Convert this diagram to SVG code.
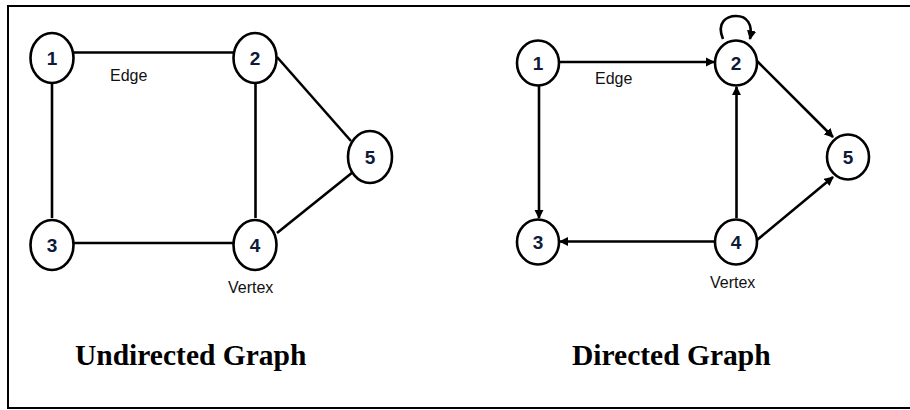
<svg xmlns="http://www.w3.org/2000/svg" width="910" height="410" viewBox="0 0 910 410">
  <style>
    .node ellipse { fill: #fff; stroke: #000; stroke-width: 2.6; }
    .node text { font-family: "Liberation Sans", Arial, sans-serif; font-weight: bold; font-size: 19px; fill: #0e1a3a; text-anchor: middle; }
    .edge { stroke: #000; stroke-width: 2.6; fill: none; }
    .arc { stroke: #000; stroke-width: 2.6; fill: none; marker-end: url(#arrow); }
    .label { font-family: "Liberation Sans", Arial, sans-serif; font-size: 16px; fill: #111; }
    .title { font-family: "Liberation Serif", "Times New Roman", serif; font-weight: bold; font-size: 29.5px; fill: #000; }
  </style>
  <defs>
    <marker id="arrow" viewBox="0 0 10 10" refX="9" refY="5" markerWidth="3.6" markerHeight="3.6" orient="auto" markerUnits="strokeWidth">
      <path d="M0,0 L10,5 L0,10 z" fill="#000"/>
    </marker>
  </defs>

  <!-- frame -->
  <rect x="8" y="6" width="910" height="402" fill="#fff" stroke="#000" stroke-width="2"/>

  <!-- connectors -->
  <g id="connectors">
    <!-- undirected -->
    <line class="edge" x1="73" y1="52.5" x2="233" y2="52.5"/>
    <line class="edge" x1="52" y1="84" x2="52" y2="218"/>
    <line class="edge" x1="255.5" y1="84" x2="255.5" y2="218"/>
    <line class="edge" x1="73" y1="243" x2="233" y2="243"/>
    <line class="edge" x1="277" y1="57" x2="351" y2="141"/>
    <line class="edge" x1="277" y1="233" x2="353" y2="172"/>
    <!-- directed -->
    <line class="arc" x1="559" y1="62" x2="714" y2="62"/>
    <line class="arc" x1="539" y1="86" x2="539" y2="218"/>
    <line class="arc" x1="715" y1="241.5" x2="560" y2="241.5"/>
    <line class="arc" x1="736.5" y1="218" x2="736.5" y2="87"/>
    <line class="arc" x1="756" y1="60" x2="833" y2="137"/>
    <line class="arc" x1="757" y1="240" x2="833" y2="177"/>
    <path class="arc" d="M723,39 C716,22 727,16 736,16 C747,16 753,24 750,39"/>
  </g>

  <!-- undirected graph nodes -->
  <g id="u1" class="node"><ellipse cx="52" cy="58" rx="21.5" ry="25"/><text x="52" y="65">1</text></g>
  <g id="u2" class="node"><ellipse cx="255" cy="58" rx="21.5" ry="25"/><text x="255" y="65">2</text></g>
  <g id="u3" class="node"><ellipse cx="52" cy="245" rx="21.5" ry="25"/><text x="52" y="252">3</text></g>
  <g id="u4" class="node"><ellipse cx="255" cy="245" rx="21.5" ry="25"/><text x="255" y="252">4</text></g>
  <g id="u5" class="node"><ellipse cx="370" cy="157" rx="22" ry="26"/><text x="370" y="164">5</text></g>

  <!-- directed graph nodes -->
  <g id="d1" class="node"><ellipse cx="538" cy="63" rx="21" ry="22.5"/><text x="538" y="70">1</text></g>
  <g id="d2" class="node"><ellipse cx="736" cy="63" rx="21" ry="22.5"/><text x="736" y="70">2</text></g>
  <g id="d3" class="node"><ellipse cx="538" cy="242" rx="21" ry="22.5"/><text x="538" y="249">3</text></g>
  <g id="d4" class="node"><ellipse cx="736" cy="242" rx="21" ry="22.5"/><text x="736" y="249">4</text></g>
  <g id="d5" class="node"><ellipse cx="848" cy="157" rx="21" ry="22.5"/><text x="848" y="164">5</text></g>

  <!-- labels -->
  <text class="label" x="110" y="81">Edge</text>
  <text class="label" x="228" y="293">Vertex</text>
  <text class="label" x="595" y="84">Edge</text>
  <text class="label" x="710" y="288">Vertex</text>

  <text class="title" x="75" y="365">Undirected Graph</text>
  <text class="title" x="572" y="365">Directed Graph</text>
</svg>
